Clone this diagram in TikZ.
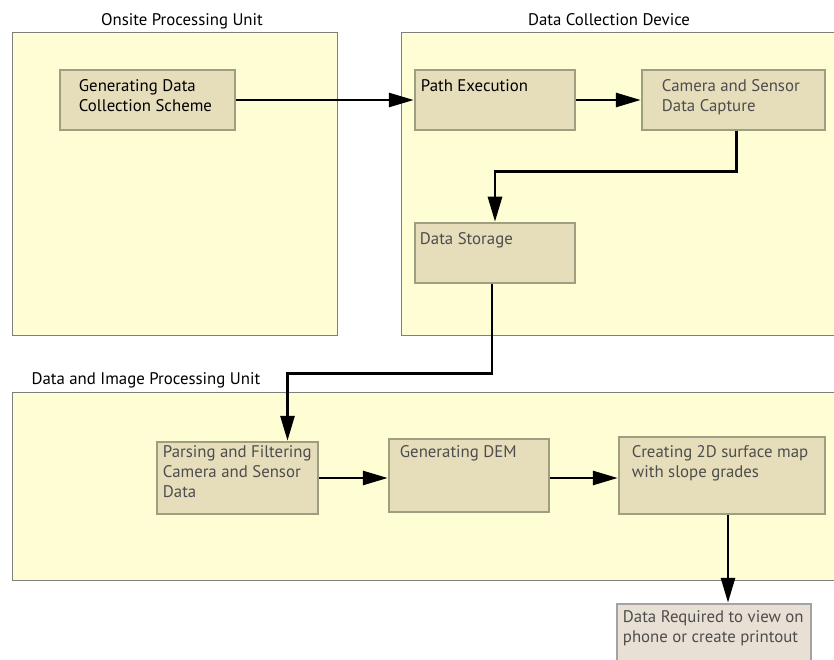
\documentclass[tikz,border=0pt]{standalone}
\usepackage{fontspec}
\setmainfont{PT Sans}
\usetikzlibrary{arrows.meta}

\definecolor{unitfill}{HTML}{FFFDD3}
\definecolor{unitdraw}{HTML}{7F7F7F}
\definecolor{stepfill}{HTML}{E6DDBB}
\definecolor{stepdraw}{HTML}{A09E80}
\definecolor{outfill}{HTML}{E8E0D4}
\definecolor{outdraw}{HTML}{A3A3A3}
\definecolor{greytext}{HTML}{4D4D4D}

\begin{document}
\begin{tikzpicture}[
    x=1pt,
    y=-1pt,
    every node/.style={
        font=\fontsize{16.8}{20}\selectfont,
        align=left
    },
    unit/.style={
        draw=unitdraw,
        line width=1pt,
        fill=unitfill,
        inner sep=0pt
    },
    unittitle/.style={
        anchor=base
    },
    stepbox/.style={
        draw=stepdraw,
        line width=2.5pt,
        fill=stepfill,
        inner sep=0pt
    },
    outbox/.style={
        draw=outdraw,
        line width=2.5pt,
        fill=outfill,
        inner sep=0pt
    },
    boxtext/.style={
        anchor=north west,
        inner sep=0pt,
        text=greytext
    },
    relation/.style={
        -{Triangle[length=25pt,width=14pt]},
        line width=2.8pt,
        black
    }
]

\useasboundingbox (0,0) rectangle (834,660);

% containers
\node[unit, minimum width=325, minimum height=302] (onsite) at (174.5,184) {};
\node[unit, minimum width=433, minimum height=302] (device) at (617.5,184) {};
\node[unit, minimum width=822, minimum height=188] (processing) at (423,486) {};

\node[unittitle] (onsitetitle) at (182,26) {Onsite Processing Unit};
\node[unittitle] (devicetitle) at (609,26) {Data Collection Device};
\node[unittitle, anchor=base west] (processingtitle) at (28,384) {Data and Image Processing Unit};

% steps
\node[stepbox, minimum width=175, minimum height=60,
    label={[boxtext, text=black, xshift=20, yshift=-11]north west:Generating Data\\Collection Scheme}]
    (scheme) at (147.5,100) {};

\node[stepbox, minimum width=160, minimum height=60,
    label={[boxtext, text=black, xshift=7, yshift=-11]north west:Path Execution}]
    (path) at (495,100) {};

\node[stepbox, minimum width=183, minimum height=60,
    label={[boxtext, xshift=21, yshift=-11]north west:Camera and Sensor\\Data Capture}]
    (camera) at (733.5,100) {};

\node[stepbox, minimum width=160, minimum height=60,
    label={[boxtext, xshift=6, yshift=-11]north west:Data Storage}]
    (storage) at (495,253) {};

\node[stepbox, minimum width=161, minimum height=72,
    label={[boxtext, xshift=7, yshift=-5]north west:Parsing and Filtering\\Camera and Sensor\\Data}]
    (parsing) at (237.5,478) {};

\node[stepbox, minimum width=160, minimum height=73,
    label={[boxtext, xshift=12, yshift=-8]north west:Generating DEM}]
    (dem) at (469,475.5) {};

\node[stepbox, minimum width=206, minimum height=77,
    label={[boxtext, xshift=14, yshift=-10]north west:Creating 2D surface map\\with slope grades}]
    (surface) at (722,475.5) {};

\node[outbox, minimum width=194, minimum height=72,
    label={[boxtext, xshift=7, yshift=-8]north west:Data Required to view on\\phone or create printout}]
    (output) at (714,640) {};

% connectors
\draw[relation] (scheme.east) -- (path.west);
\draw[relation] (path.east) -- (camera.west);
\draw[relation] ([xshift=3]camera.south) -- ++(0,40) -| (storage.north);
\draw[relation] ([xshift=-3]storage.south) -- ++(0,89) -| ([xshift=50]parsing.north);
\draw[relation] (parsing.east) -- (dem.west |- parsing.east);
\draw[relation] (dem.east |- parsing.east) -- (surface.west |- parsing.east);
\draw[relation] ([xshift=6]surface.south) -- ([xshift=14]output.north);

\end{tikzpicture}
\end{document}
